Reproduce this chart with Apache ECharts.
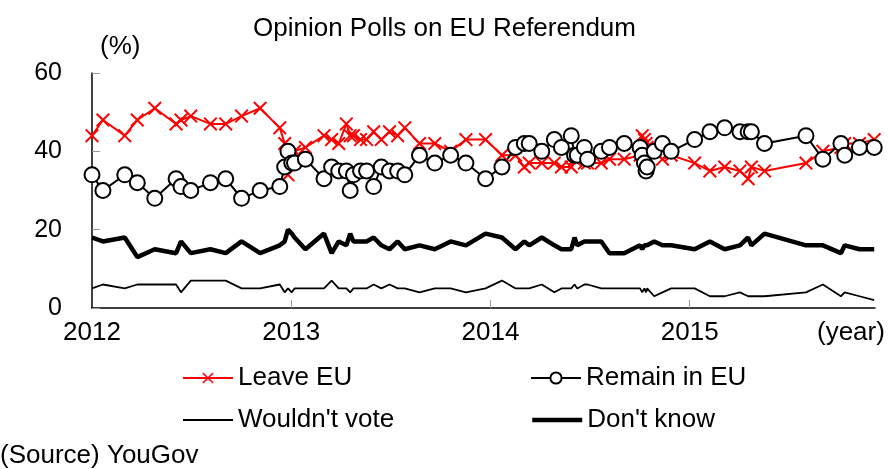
<!DOCTYPE html>
<html>
<head>
<meta charset="utf-8">
<script src="https://cdn.jsdelivr.net/npm/echarts@6/dist/echarts.min.js"></script>
<style>html,body{margin:0;padding:0;background:#fff}#c{width:888px;height:469px}</style>
</head>
<body>
<div id="c"></div>
<script>
// Poll dates (YouGov)
const dates = ['2012-01-01','2012-01-21','2012-03-01','2012-03-24','2012-04-25','2012-06-03','2012-06-12','2012-06-30','2012-08-05','2012-09-02','2012-10-01','2012-11-04','2012-12-10','2012-12-19','2012-12-25','2013-01-02','2013-01-07','2013-01-27','2013-03-02','2013-03-16','2013-03-29','2013-04-12','2013-04-19','2013-04-25','2013-05-08','2013-05-19','2013-06-01','2013-06-15','2013-06-30','2013-07-15','2013-07-28','2013-08-24','2013-09-21','2013-10-20','2013-11-17','2013-12-23','2014-01-22','2014-02-16','2014-03-04','2014-03-13','2014-04-05','2014-04-28','2014-05-11','2014-05-29','2014-06-04','2014-06-09','2014-06-22','2014-06-28','2014-07-23','2014-08-07','2014-09-03','2014-10-02','2014-10-06','2014-10-10','2014-10-13','2014-10-15','2014-10-28','2014-11-12','2014-11-28','2015-01-10','2015-02-07','2015-03-06','2015-04-03','2015-04-18','2015-04-24','2015-05-18','2015-08-02','2015-09-02','2015-10-05','2015-10-12','2015-11-08','2015-12-05'];
const leaveEU = [44,48,44,48,51,47,48,49,47,47,49,51,46,42,34,38,40,41,44,43,42,47,44,44,43,43,45,43,45,44,46,42,42,40,43,43,39,39,36,37,37,37,36,36,38,38,37,37,37,38,38,39,44,43,42,41,40,38,39,37,35,36,35,33,36,35,37,40,41,42,42,43];
const remainEU = [34,30,34,32,28,33,31,30,32,33,28,30,31,36,40,37,37,38,33,36,35,35,30,34,35,35,31,36,35,35,34,39,37,39,37,33,36,41,42,42,40,43,41,44,39,39,41,38,40,41,42,41,39,37,35,36,40,42,40,43,45,46,45,45,45,42,44,38,42,39,41,41];
const wouldntVote = [5,6,5,6,6,6,4,7,7,7,5,5,6,4,5,4,5,5,5,7,5,5,4,5,5,5,6,5,6,5,5,4,5,5,4,5,7,5,5,5,6,4,5,5,6,5,6,6,5,5,5,5,4,5,4,5,3,4,5,5,3,3,4,3,3,3,4,6,3,4,3,2];
const dontKnow = [18,17,18,13,15,14,17,14,15,14,17,14,16,17,20,19,18,15,19,14,17,16,19,17,17,17,18,16,15,17,15,16,15,17,16,19,18,15,17,16,18,16,15,15,18,16,17,17,17,14,14,16,15,16,16,16,17,16,16,15,17,15,16,18,16,19,16,16,14,16,15,15];
const yearTicks = [2012, 2013, 2014, 2015];
const yTicks = [0, 20, 40, 60];

function toYear(s) {
  const [y, m, d] = s.split('-').map(Number);
  return y + (Date.UTC(y, m - 1, d) - Date.UTC(y, 0, 1)) / (365 * 864e5);
}
const xs = dates.map(toYear);
const pairs = arr => arr.map((v, i) => [xs[i], v]);

const FONT = 'Liberation Sans, Arial, sans-serif';
const crossPath = 'path://M1,0 L5,4 L9,0 L10,1 L6,5 L10,9 L9,10 L5,6 L1,10 L0,9 L4,5 L0,1 Z';

const chart = echarts.init(document.getElementById('c'), null, {renderer: 'canvas'});
const legendBase = {padding: 0, itemWidth: 50, itemHeight: 14, textStyle: {fontFamily: FONT, fontSize: 26, color: '#000'}};
chart.setOption({
  animation: false,
  textStyle: {fontFamily: FONT},
  grid: {left: 92, right: 13, top: 73, bottom: 161, containLabel: false},
  xAxis: {
    type: 'value', min: 2012, max: 2015.93, interval: 1,
    axisLine: {lineStyle: {color: '#000', width: 1.5}},
    axisTick: {inside: true, length: 8, lineStyle: {color: '#999'}, customValues: [2013, 2014, 2015]},
    axisLabel: {customValues: yearTicks, formatter: v => String(v), color: '#000', fontSize: 26, margin: 12, fontFamily: FONT},
    splitLine: {show: false}
  },
  yAxis: {
    type: 'value', min: 0, max: 60, interval: 20,
    axisLine: {show: true, lineStyle: {color: '#000', width: 1.5}},
    axisTick: {show: true, inside: true, length: 8, lineStyle: {color: '#999'}},
    axisLabel: {customValues: yTicks, color: '#000', fontSize: 25, margin: 30, fontFamily: FONT},
    splitLine: {show: false}
  },
  legend: [
    Object.assign({data: ['Leave EU'], left: 182, top: 365}, legendBase),
    Object.assign({data: ['Remain in EU'], left: 530, top: 365}, legendBase),
    Object.assign({data: ["Wouldn't vote"], left: 182, top: 407, itemStyle: {opacity: 0}, lineStyle: {width: 2}}, legendBase),
    Object.assign({data: ["Don't know"], left: 530, top: 407, itemStyle: {opacity: 0}, lineStyle: {width: 4.5}}, legendBase)
  ],
  graphic: [
    {type: 'text', left: 450 - 197, top: 16, style: {text: 'Opinion Polls on EU Referendum', font: '26px ' + FONT, fill: '#000'}},
    {type: 'text', left: 100, top: 34, style: {text: '(%)', font: '26px ' + FONT, fill: '#000'}},
    {type: 'text', left: 817, top: 320, style: {text: '(year)', font: '26px ' + FONT, fill: '#000'}},
    {type: 'text', left: 0, top: 443, style: {text: '(Source) YouGov', font: '26px ' + FONT, fill: '#000'}}
  ],
  series: [
    {name: "Wouldn't vote", type: 'line', data: pairs(wouldntVote), symbol: 'none',
     lineStyle: {color: '#000', width: 1.8}, itemStyle: {color: '#000'}},
    {name: "Don't know", type: 'line', data: pairs(dontKnow), symbol: 'none',
     lineStyle: {color: '#000', width: 4.5}, itemStyle: {color: '#000'}},
    {name: 'Leave EU', type: 'line', data: pairs(leaveEU), symbol: crossPath, symbolSize: 14,
     lineStyle: {color: '#ff0000', width: 2}, itemStyle: {color: '#ff0000'}},
    {name: 'Remain in EU', type: 'line', data: pairs(remainEU), symbol: 'circle', symbolSize: 15,
     lineStyle: {color: '#000', width: 2}, itemStyle: {color: '#fff', borderColor: '#000', borderWidth: 2}}
  ]
});
</script>
</body>
</html>
